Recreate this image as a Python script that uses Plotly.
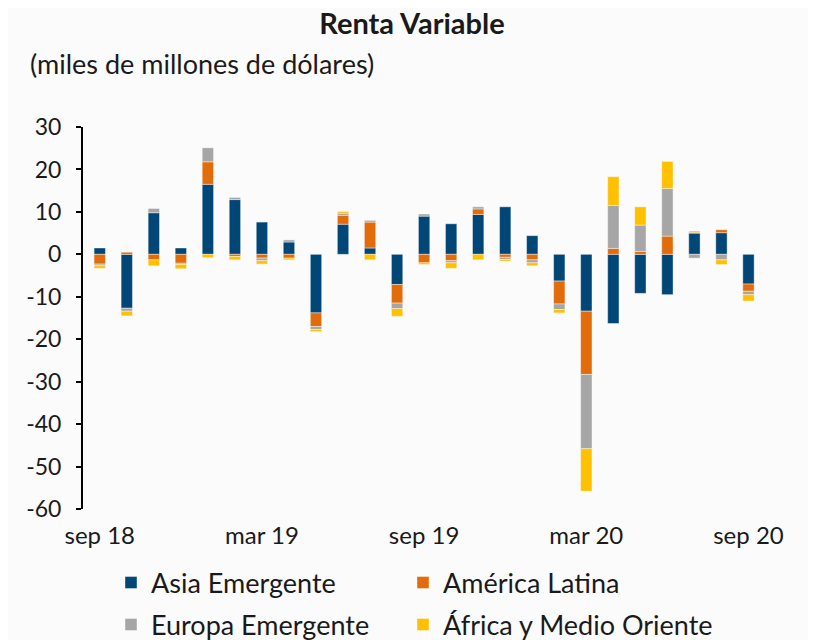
import plotly.graph_objects as go

# ── Data (miles de millones de dólares) ──────────────────────────────────────
months = ["sep 18", "oct 18", "nov 18", "dic 18", "ene 19", "feb 19", "mar 19",
          "abr 19", "may 19", "jun 19", "jul 19", "ago 19", "sep 19", "oct 19",
          "nov 19", "dic 19", "ene 20", "feb 20", "mar 20", "abr 20", "may 20",
          "jun 20", "jul 20", "ago 20", "sep 20"]

asia    = [1.5, -12.7, 9.8, 1.5, 16.5, 12.9, 7.6, 2.9, -13.8, 7.1, 1.5, -7.1, 9.0,
           7.2, 9.4, 11.2, 4.4, -6.3, -13.4, -16.3, -9.2, -9.5, 5.0, 5.1, -7.0]
latam   = [-2.3, 0.5, -1.3, -2.1, 5.3, -0.5, -0.9, -0.9, -3.2, 2.1, 6.1, -4.4, -2.0,
           -1.5, 1.3, -0.7, -1.3, -5.4, -14.9, 1.4, 0.7, 4.3, 0.2, 0.7, -1.7]
europa  = [-0.4, -0.7, 1.0, -0.3, 3.3, 0.5, -0.6, 0.5, -0.7, 0.5, 0.4, -1.3, 0.5,
           -0.5, 0.5, -0.5, -0.7, -1.3, -17.5, 10.1, 6.2, 11.2, -0.9, -1.3, -0.8]
africa  = [-0.6, -1.1, -1.4, -1.0, -0.8, -0.8, -0.8, -0.4, -0.5, 0.4, -1.3, -1.8, -0.4,
           -1.3, -1.3, -0.4, -0.7, -0.8, -10.0, 6.8, 4.3, 6.4, 0.3, -1.1, -1.5]

label_months = ["sep 18", "mar 19", "sep 19", "mar 20", "sep 20"]
tick_marks = [5.5, 11.5, 17.5, 23.5]  # semester boundaries
y_ticks = [-60, -50, -40, -30, -20, -10, 0, 10, 20, 30]

FONT = "Lato, 'Open Sans', sans-serif"
TEXT = "#1A1A1A"
BG = "#FBFBFB"

# the page body adds an 8px offset, so positions below are in figure px
W, H = 808, 632
L, R, T, B = 75, 54, 119, 131
PW, PH = W - L - R, H - T - B

# one legend per entry so the 2x2 grid lines up like the original
SERIES = [
    ("Asia Emergente", asia, "#004677", "legend", 103, 575),
    ("América Latina", latam, "#E36C0A", "legend2", 395, 575),
    ("Europa Emergente", europa, "#A6A6A6", "legend3", 103, 617),
    ("África y Medio Oriente", africa, "#FFC000", "legend4", 395, 617),
]

fig = go.Figure()
legends = {}
for name, vals, color, lg, lx, ly in SERIES:
    fig.add_trace(go.Bar(
        x=months, y=vals, name=name, legend=lg,
        marker=dict(color=color, line=dict(color="rgba(255,255,255,0.7)", width=0.6)),
        width=0.42,
    ))
    legends[lg] = dict(orientation="h", x=(lx - L) / PW, xanchor="left",
                       y=(H - B - ly) / PH, yanchor="middle",
                       bgcolor="rgba(0,0,0,0)", font=dict(size=27, color=TEXT))

XR = [-0.62, 24.5]
fig.update_layout(
    width=W, height=H,
    barmode="relative",
    paper_bgcolor=BG, plot_bgcolor=BG,
    font=dict(family=FONT, color=TEXT, size=22),
    margin=dict(l=L, r=R, t=T, b=B, autoexpand=False),
    title=dict(text="<b>Renta Variable</b>", x=0.5, xanchor="center",
               y=1, yanchor="top", pad=dict(t=6),
               font=dict(size=29, color=TEXT)),
    xaxis=dict(type="category", range=XR, tickvals=label_months,
               ticks="", showline=False, showgrid=False, zeroline=False,
               ticklabelstandoff=10, tickfont=dict(size=24, color=TEXT)),
    xaxis2=dict(type="linear", overlaying="x", anchor="free", position=60 / 90,
                range=XR, tickvals=tick_marks, ticks="outside", ticklen=8,
                tickwidth=2, tickcolor="black", showticklabels=False,
                showline=True, linecolor="black", linewidth=2,
                showgrid=False, zeroline=False),
    yaxis=dict(range=[-60, 30], tickvals=y_ticks,
               ticktext=[str(v) for v in y_ticks],
               showgrid=False, zeroline=False,
               showline=True, linecolor="black", linewidth=2,
               ticks="outside", ticklen=5, tickwidth=2, tickcolor="black",
               ticklabelstandoff=10, tickfont=dict(size=23, color=TEXT)),
    showlegend=True,
    **legends,
)

fig.add_annotation(text="(miles de millones de dólares)", xref="paper", yref="paper",
                   x=(20 - L) / PW, y=(H - B - 55) / PH, xanchor="left", yanchor="middle",
                   showarrow=False, font=dict(size=27, color=TEXT))

fig.write_html("out.html")
